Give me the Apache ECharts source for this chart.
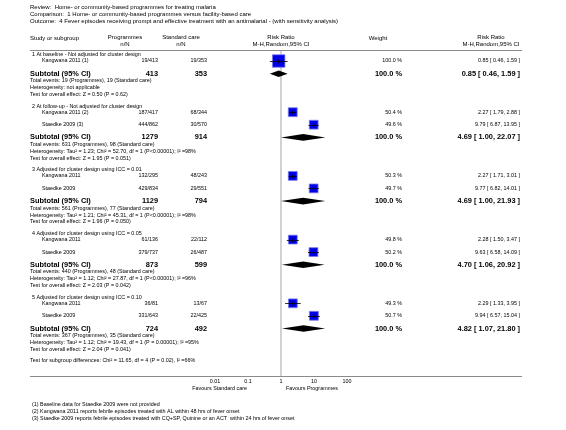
<!DOCTYPE html>
<html><head><meta charset="utf-8">
<script src="https://cdn.jsdelivr.net/npm/echarts@6/dist/echarts.min.js"></script>
<style>html,body{margin:0;padding:0;background:#fff}#c{width:566px;height:430px}</style>
</head><body><div id="c"></div>
<script>
// ---------- data ----------
const reviewLines = [
  'Review:  Home- or community-based programmes for treating malaria',
  'Comparison:  1 Home- or community-based programmes versus facility-based care',
  'Outcome:  4 Fever episodes receiving prompt and effective treatment with an antimalarial - (with sensitivity analysis)'
];
const groupTitles = [
  '1 At baseline - Not adjusted for cluster design',
  '2 At follow-up - Not adjusted for cluster design',
  '3 Adjusted for cluster design using ICC = 0.01',
  '4 Adjusted for cluster design using ICC = 0.05',
  '5 Adjusted for cluster design using ICC = 0.10'
];
const groupSize = [1, 2, 2, 2, 2];
const studyNames = ['Kangwana 2011 (1)', 'Kangwana 2011 (2)', 'Staedke 2009 (3)', 'Kangwana 2011', 'Staedke 2009', 'Kangwana 2011', 'Staedke 2009', 'Kangwana 2011', 'Staedke 2009'];
const progEvents = [19, 187, 444, 132, 429, 61, 379, 36, 331];
const progTotal  = [413, 417, 862, 295, 834, 136, 737, 81, 643];
const stdEvents  = [19, 68, 30, 48, 29, 22, 26, 13, 22];
const stdTotal   = [353, 344, 570, 243, 551, 112, 487, 67, 425];
const weights    = [100.0, 50.4, 49.6, 50.3, 49.7, 49.8, 50.2, 49.3, 50.7];
const rr     = [0.85, 2.27, 9.79, 2.27, 9.77, 2.28, 9.63, 2.29, 9.94];
const rrLow  = [0.46, 1.79, 6.87, 1.71, 6.82, 1.50, 6.58, 1.33, 6.57];
const rrHigh = [1.59, 2.88, 13.95, 3.01, 14.01, 3.47, 14.09, 3.95, 15.04];

const subProg = [413, 1279, 1129, 873, 724];
const subStd  = [353, 914, 794, 599, 492];
const subRR   = [0.85, 4.69, 4.69, 4.70, 4.82];
const subLow  = [0.46, 1.00, 1.00, 1.06, 1.07];
const subHigh = [1.59, 22.07, 21.93, 20.92, 21.80];
const totProgEvents = [19, 631, 561, 440, 367];
const totStdEvents  = [19, 98, 77, 48, 35];
const hetTexts = [
  'Heterogeneity: not applicable',
  'Heterogeneity: Tau\u00b2 = 1.23; Chi\u00b2 = 52.70, df = 1 (P<0.00001); I\u00b2 =98%',
  'Heterogeneity: Tau\u00b2 = 1.21; Chi\u00b2 = 45.31, df = 1 (P<0.00001); I\u00b2 =98%',
  'Heterogeneity: Tau\u00b2 = 1.12; Chi\u00b2 = 27.87, df = 1 (P<0.00001); I\u00b2 =96%',
  'Heterogeneity: Tau\u00b2 = 1.12; Chi\u00b2 = 19.43, df = 1 (P = 0.00001); I\u00b2 =95%'
];
const testTexts = [
  'Test for overall effect: Z = 0.50 (P = 0.62)',
  'Test for overall effect: Z = 1.95 (P = 0.051)',
  'Test for overall effect: Z = 1.96 (P = 0.050)',
  'Test for overall effect: Z = 2.03 (P = 0.042)',
  'Test for overall effect: Z = 2.04 (P = 0.041)'
];
const subgroupTest = 'Test for subgroup differences: Chi\u00b2 = 11.65, df = 4 (P = 0.02), I\u00b2 =66%';
const axisTicks = [0.01, 0.1, 1, 10, 100];
const favoursLeft = 'Favours Standard care';
const favoursRight = 'Favours Programmes';
const footnotes = [
  '(1) Baseline data for Staedke 2009 were not provided',
  '(2) Kangwana 2011 reports febrile episodes treated with AL within 48 hrs of fever onset',
  '(3) Staedke 2009 reports febrile episodes treated with CQ+SP, Quinine or an ACT  within 24 hrs of fever onset'
];

// ---------- layout ----------
const FONT = '"Liberation Sans", Arial, sans-serif';
const FS = 5.4, FSB = 7.4, FSH = 6;
const COL = {left: 30, study: 42, prog: 158, std: 207, weight: 402, rr: 520, lineR: 522};
const gY = [], sY = [], subY = [], evY = [], hetY = [], testY = [];
(function () {
  let y = 55;
  for (let g = 0; g < groupSize.length; g++) {
    gY.push(y); y += 6;
    for (let k = 0; k < groupSize[g]; k++) { sY.push(y); if (k < groupSize[g] - 1) y += 12.5; }
    y += 12.7; subY.push(y);
    y += 7; evY.push(y);
    y += 7; hetY.push(y);
    y += 6.7; testY.push(y);
    y += 11.8;
  }
  gY.push(y);
})();
const fmtCI = (v, l, h) => v.toFixed(2) + ' [ ' + l.toFixed(2) + ', ' + h.toFixed(2) + ' ]';

const texts = [];
function T(str, x, y, align, size, bold) {
  texts.push({
    type: 'text', silent: true, z: 10,
    style: {
      text: str, x: x, y: y, fill: '#000',
      font: (bold ? 'bold ' : '') + size + 'px ' + FONT,
      textAlign: align, align: align, textVerticalAlign: 'middle', verticalAlign: 'middle'
    }
  });
}
reviewLines.forEach((s, i) => T(s, COL.left, 7 + i * 7, 'left', FSH));
T('Study or subgroup', COL.left, 38, 'left', FSH);
T('Programmes', 125, 37, 'center', FSH); T('n/N', 125, 44, 'center', FSH);
T('Standard care', 181, 37, 'center', FSH); T('n/N', 181, 44, 'center', FSH);
T('Risk Ratio', 281, 37, 'center', FSH); T('M-H,Random,95% CI', 281, 44, 'center', FSH);
T('Weight', 378, 38, 'center', FSH);
T('Risk Ratio', 491, 37, 'center', FSH); T('M-H,Random,95% CI', 491, 44, 'center', FSH);

let si = 0;
for (let g = 0; g < groupTitles.length; g++) {
  T(groupTitles[g], COL.left + 2, gY[g], 'left', FS);
  for (let k = 0; k < groupSize[g]; k++, si++) {
    const y = sY[si];
    T(studyNames[si], COL.study, y, 'left', FS);
    T(progEvents[si] + '/' + progTotal[si], COL.prog, y, 'right', FS);
    T(stdEvents[si] + '/' + stdTotal[si], COL.std, y, 'right', FS);
    T(weights[si].toFixed(1) + ' %', COL.weight, y, 'right', FS);
    T(fmtCI(rr[si], rrLow[si], rrHigh[si]), COL.rr, y, 'right', FS);
  }
  T('Subtotal (95% CI)', COL.left, subY[g], 'left', FSB, true);
  T(String(subProg[g]), COL.prog, subY[g], 'right', FSB, true);
  T(String(subStd[g]), COL.std, subY[g], 'right', FSB, true);
  T('100.0 %', COL.weight, subY[g], 'right', FSB, true);
  T(fmtCI(subRR[g], subLow[g], subHigh[g]), COL.rr, subY[g], 'right', FSB, true);
  T('Total events: ' + totProgEvents[g] + ' (Programmes), ' + totStdEvents[g] + ' (Standard care)', COL.left, evY[g], 'left', FS);
  T(hetTexts[g], COL.left, hetY[g], 'left', FS);
  T(testTexts[g], COL.left, testY[g], 'left', FS);
}
T(subgroupTest, COL.left, gY[groupTitles.length], 'left', FS);
T(favoursLeft, 247, 389, 'right', FS);
T(favoursRight, 286, 389, 'left', FS);
footnotes.forEach((s, i) => T(s, COL.left + 2, 405 + i * 7, 'left', FS));

const lines = [50, 376].map(y => ({
  type: 'line', silent: true, z: 5,
  shape: {x1: COL.left, y1: y + 0.5, x2: COL.lineR, y2: y + 0.5},
  style: {stroke: '#8a8a8a', lineWidth: 1}
}));

// ---------- chart ----------
const chart = echarts.init(document.getElementById('c'), null, {renderer: 'canvas'});
const studyData = rr.map((v, i) => [v, rrLow[i], rrHigh[i], sY[i], weights[i]]);
const subData = subRR.map((v, i) => [v, subLow[i], subHigh[i], subY[i]]);

chart.setOption({
  animation: false,
  backgroundColor: '#fff',
  grid: {left: 215, width: 132, top: 0, height: 376},
  xAxis: {
    type: 'log', logBase: 10, min: 0.01, max: 100, splitNumber: 4,
    axisLine: {show: false}, axisTick: {show: false}, splitLine: {show: false},
    axisLabel: {
      fontSize: FS, color: '#000', fontFamily: FONT, margin: 3,
      formatter: v => String(+Number(v).toPrecision(3))
    }
  },
  yAxis: {type: 'value', min: 0, max: 376, inverse: true, show: false},
  graphic: lines.concat(texts),
  series: [
    {
      type: 'custom', silent: true, z: 1, clip: false,
      data: [[1, 50, 376]],
      encode: {x: 0, y: [1, 2]},
      renderItem: (p, api) => {
        const a = api.coord([api.value(0), api.value(1)]);
        const b = api.coord([api.value(0), api.value(2)]);
        return {type: 'line', shape: {x1: a[0], y1: a[1], x2: b[0], y2: b[1]}, style: {stroke: '#d2d2d2', lineWidth: 2}};
      }
    },
    {
      type: 'custom', silent: true, z: 3, clip: false,
      data: studyData,
      encode: {x: [0, 1, 2], y: 3},
      renderItem: (p, api) => {
        const y = api.value(3);
        const c = api.coord([api.value(0), y]);
        const l = api.coord([api.value(1), y]);
        const h = api.coord([api.value(2), y]);
        const s = Math.sqrt(api.value(4) / 100) * 12.5;
        const cy = Math.round(c[1]) + 0.5;
        return {type: 'group', children: [
          {type: 'rect', shape: {x: c[0] - s / 2, y: c[1] - s / 2, width: s, height: s}, style: {fill: '#0000e6', stroke: '#7b7bf0', lineWidth: 0.8}},
          {type: 'line', shape: {x1: l[0], y1: cy, x2: h[0], y2: cy}, style: {stroke: '#000', lineWidth: 0.8}},
          {type: 'line', shape: {x1: c[0], y1: cy - 2, x2: c[0], y2: cy + 2}, style: {stroke: '#000', lineWidth: 0.8}}
        ]};
      }
    },
    {
      type: 'custom', silent: true, z: 3, clip: false,
      data: subData,
      encode: {x: [0, 1, 2], y: 3},
      renderItem: (p, api) => {
        const y = api.value(3);
        const c = api.coord([api.value(0), y]);
        const l = api.coord([api.value(1), y]);
        const h = api.coord([api.value(2), y]);
        return {type: 'polygon', shape: {points: [[l[0], c[1]], [c[0], c[1] - 3.3], [h[0], c[1]], [c[0], c[1] + 3.3]]}, style: {fill: '#000'}};
      }
    }
  ]
});
</script></body></html>
